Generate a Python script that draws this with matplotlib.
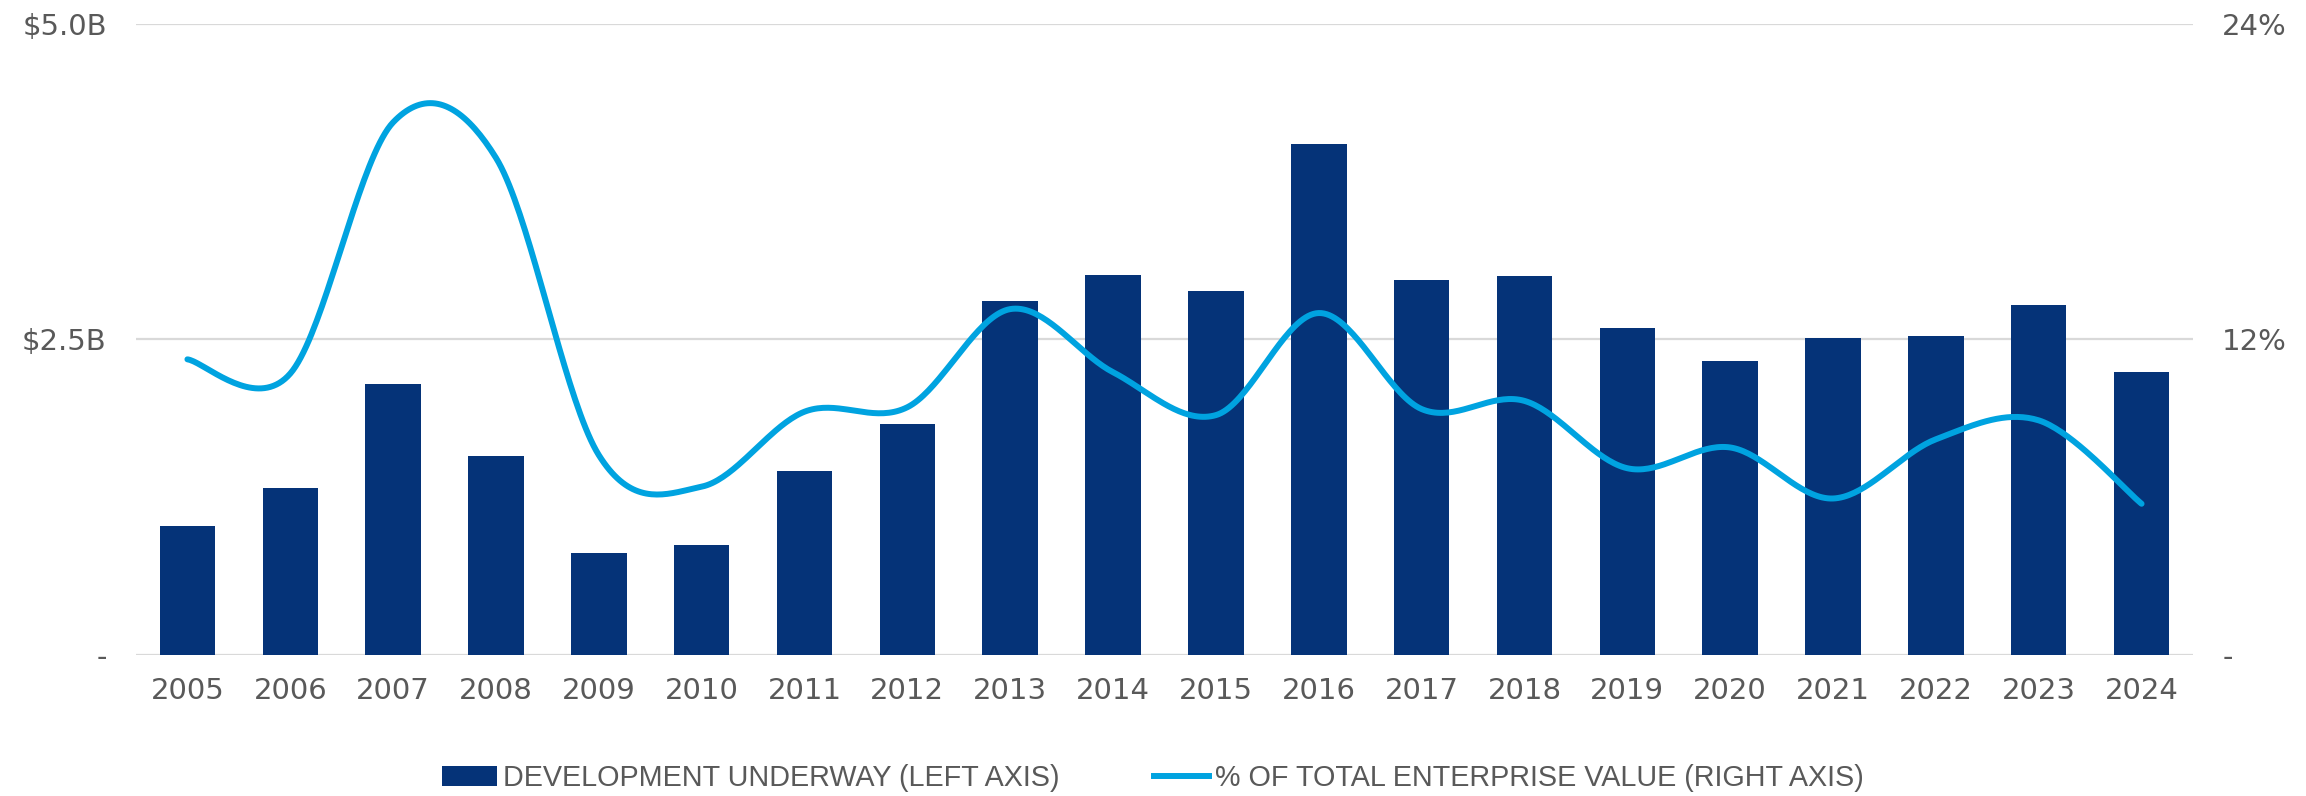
import matplotlib
matplotlib.use('Agg')
import matplotlib.pyplot as plt
import numpy as np
from matplotlib.patches import Patch
from matplotlib.lines import Line2D

years = ['2005', '2006', '2007', '2008', '2009', '2010', '2011', '2012', '2013', '2014',
         '2015', '2016', '2017', '2018', '2019', '2020', '2021', '2022', '2023', '2024']
# development underway, $B (left axis)
dev_underway = [1.02, 1.32, 2.15, 1.58, 0.81, 0.87, 1.46, 1.83, 2.80, 3.01,
                2.88, 4.05, 2.97, 3.00, 2.59, 2.33, 2.51, 2.53, 2.77, 2.24]
# % of total enterprise value (right axis)
pct_ev = [11.24, 10.7, 20.25, 18.9, 7.6, 6.4, 9.25, 9.42, 13.15, 10.75,
          9.12, 13.0, 9.35, 9.66, 7.1, 7.89, 5.95, 8.2, 8.92, 5.75]

left_ticks = [0, 2.5, 5.0]
left_labels = ['-', '$2.5B', '$5.0B']
right_ticks = [0, 12, 24]
right_labels = ['-', '12%', '24%']

NAVY = '#053378'
CYAN = '#00A3E0'
GRAY = '#595959'
GRID = '#D9D9D9'

plt.rcParams['font.family'] = ['DejaVu Sans']


def smooth(xs, ys, n=40):
    # excel style smoothed line: bezier segments, control points at 1/6 of neighbour chord
    pts = np.column_stack([xs, ys]).astype(float)
    ext = np.vstack([pts[0], pts, pts[-1]])
    out = []
    t = np.linspace(0, 1, n)[:, None]
    for i in range(len(pts) - 1):
        p0, p1, p2, p3 = ext[i], ext[i + 1], ext[i + 2], ext[i + 3]
        c1 = p1 + (p2 - p0) / 6
        c2 = p2 - (p3 - p1) / 6
        seg = (1 - t) ** 3 * p1 + 3 * (1 - t) ** 2 * t * c1 + 3 * (1 - t) * t ** 2 * c2 + t ** 3 * p2
        out.append(seg if i == 0 else seg[1:])
    return np.vstack(out)


fig = plt.figure(figsize=(23.06, 7.96), dpi=100)
ax = fig.add_axes([136 / 2306, 1 - 655 / 796, (2193 - 136) / 2306, (655 - 23.7) / 796])
x = np.arange(len(years))
ax.bar(x, dev_underway, width=0.54, color=NAVY, zorder=2)
ax.set_xlim(-0.5, len(years) - 0.5)
ax.set_ylim(0, 5.0)
ax.set_yticks(left_ticks)
ax.set_yticklabels(left_labels)
ax.set_xticks(x)
ax.set_xticklabels(years)
ax.grid(axis='y', color=GRID, linewidth=1.6, zorder=0)
ax.set_axisbelow(True)
for s in ax.spines.values():
    s.set_visible(False)
ax.tick_params(axis='both', length=0, labelsize=21, labelcolor=GRAY)
ax.tick_params(axis='y', pad=21)
ax.tick_params(axis='x', pad=16)

ax2 = ax.twinx()
curve = smooth(x, pct_ev)
ax2.plot(curve[:, 0], curve[:, 1], color=CYAN, linewidth=4.3, solid_capstyle='round', zorder=3)
ax2.set_ylim(0, 24)
ax2.set_yticks(right_ticks)
ax2.set_yticklabels(right_labels)
for s in ax2.spines.values():
    s.set_visible(False)
ax2.tick_params(axis='y', length=0, labelsize=21, labelcolor=GRAY, pad=21)

handles = [Patch(facecolor=NAVY, edgecolor='none'),
           Line2D([0], [0], color=CYAN, linewidth=4.3)]
fig.legend(handles, ['DEVELOPMENT UNDERWAY (LEFT AXIS)', '% OF TOTAL ENTERPRISE VALUE (RIGHT AXIS)'],
           loc='center', bbox_to_anchor=(0.5, 1 - 778 / 796), ncol=2, frameon=False,
           prop={'family': 'Liberation Sans', 'size': 20.7}, labelcolor=GRAY,
           handlelength=1.91, handleheight=0.7,
           handletextpad=0.2, columnspacing=3.3, borderpad=0, borderaxespad=0)

fig.savefig('out.png', dpi=100)
